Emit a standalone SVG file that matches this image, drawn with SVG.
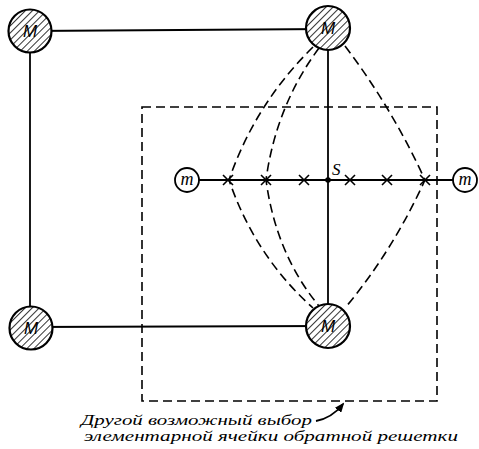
<svg xmlns="http://www.w3.org/2000/svg" width="479" height="449" viewBox="0 0 479 449">
<style>
.solid{stroke:#000;stroke-width:1.8;fill:none}
.dash{stroke:#000;stroke-width:1.6;fill:none;stroke-dasharray:9 5}
.big{fill:url(#hatch);stroke:#000;stroke-width:2.2}
.small{fill:#fff;stroke:#000;stroke-width:1.8}
.M{font-family:"Liberation Sans",sans-serif;font-style:italic;font-size:17px;text-anchor:middle;fill:#000}
.m{font-family:"Liberation Serif",serif;font-style:italic;font-size:18px;text-anchor:middle;fill:#000}
.lbl{font-family:"Liberation Serif",serif;font-style:italic;font-size:17px;fill:#000}
.cap{font-family:"Liberation Serif",serif;font-style:italic;font-size:15px;fill:#000}
.x{stroke:#000;stroke-width:1.6}
</style>
<defs>
<pattern id="hatch" patternUnits="userSpaceOnUse" width="5" height="5" patternTransform="rotate(45)">
<rect width="5" height="5" fill="#fff"/>
<line x1="0" y1="0" x2="0" y2="5" stroke="#000" stroke-width="1.6"/>
</pattern>
<marker id="arr" markerWidth="10" markerHeight="8" refX="8" refY="4" orient="auto" markerUnits="userSpaceOnUse">
<path d="M0,0 L10,4 L0,8 z" fill="#000"/>
</marker>
<g id="cross-shape"><line x1="-5" y1="-5" x2="5" y2="5"/><line x1="-5" y1="5" x2="5" y2="-5"/></g>
</defs>
<g id="connectors">
<line class="solid" x1="30" y1="31" x2="328" y2="29"/>
<line class="solid" x1="30" y1="31" x2="30" y2="327"/>
<line class="solid" x1="30" y1="327" x2="328" y2="326"/>
<line class="solid" x1="328" y1="29" x2="328" y2="326"/>
<line class="solid" x1="187" y1="180" x2="465" y2="180"/>
<rect class="dash" x="142" y="107" width="295" height="294"/>
<path class="dash" d="M313,47 Q255,104 229,180 Q255,256 313,308"/>
<path class="dash" d="M319,48 Q276,106 266,180 Q276,254 319,306"/>
<path class="dash" d="M345,46 Q392,108 425,180 Q392,252 345,308"/>
<path class="solid" stroke-width="1.5" d="M316,421 Q332,418 343,404" marker-end="url(#arr)"/>
</g>
<g id="crosses" class="x">
<use href="#cross-shape" x="228" y="180"/>
<use href="#cross-shape" x="266" y="180"/>
<use href="#cross-shape" x="304" y="180"/>
<use href="#cross-shape" x="350" y="180"/>
<use href="#cross-shape" x="387" y="180"/>
<use href="#cross-shape" x="425" y="180"/>
</g>
<g id="S"><circle cx="328" cy="180" r="2.8" fill="#000"/><text class="lbl" x="332" y="175">S</text></g>
<g id="M-tl"><circle class="big" cx="30" cy="31" r="21.5"/><text class="M" x="30" y="37">M</text></g>
<g id="M-tr"><circle class="big" cx="328" cy="28" r="22"/><text class="M" x="328" y="34">M</text></g>
<g id="M-bl"><circle class="big" cx="31" cy="328" r="21.5"/><text class="M" x="31" y="334">M</text></g>
<g id="M-br"><circle class="big" cx="328" cy="326" r="22"/><text class="M" x="328" y="332">M</text></g>
<g id="m-l"><circle class="small" cx="187" cy="180" r="12"/><text class="m" x="187" y="185">m</text></g>
<g id="m-r"><circle class="small" cx="465" cy="180" r="12"/><text class="m" x="465" y="185">m</text></g>
<g id="caption">
<text class="cap" x="81" y="425" textLength="231" lengthAdjust="spacingAndGlyphs">Другой возможный выбор</text>
<text class="cap" x="84" y="441" textLength="374" lengthAdjust="spacingAndGlyphs">элементарной ячейки обратной решетки</text>
</g>
</svg>
